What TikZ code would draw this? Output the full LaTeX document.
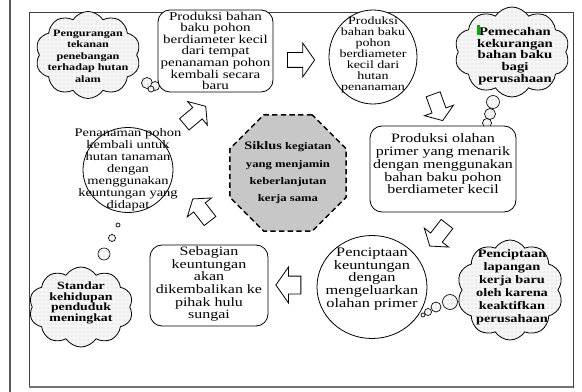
\documentclass[tikz,border=0pt]{standalone}
\usepackage{fontspec}
\setmainfont{Liberation Serif}[FakeStretch=1.25]
\usetikzlibrary{shapes.geometric,shapes.symbols,shapes.arrows,patterns}
\newcommand{\fs}[2]{\fontsize{#1}{#2}\selectfont}
\begin{document}
\begin{tikzpicture}[x=0.75pt,y=-0.75pt,
  txt/.style={align=center, inner sep=0},
  shp/.style={draw, fill=white, line width=0.6pt, inner sep=0},
  rbox/.style={shp, rectangle, rounded corners=9pt},
  ell/.style={shp, ellipse},
  cloudfill/.style={preaction={fill=gray!7}, pattern=dots, pattern color=gray!45},
  cld/.style={cloud, cloud puffs=10, cloud puff arc=115, cloud ignores aspect, draw, line width=0.6pt, cloudfill, inner sep=0},
  bub/.style={circle, draw, line width=0.5pt, cloudfill, inner sep=0, minimum size=#1*1.5pt},
  barrow/.style={single arrow, draw, fill=white, line width=0.6pt, inner xsep=0pt,
    inner ysep=7*0.75pt, minimum height=28*0.75pt,
    single arrow head extend=8*0.75pt, single arrow tip angle=110},
]
\useasboundingbox (0,0) rectangle (582,392);
% frame
\draw[black!65, line width=0.8pt] (10,0) -- (10,392);
\draw[black!75, line width=0.7pt] (29,12) rectangle (573,387);
\draw[black!55, line width=1.6pt] (29,387) -- (573,387);

% octagon
\node[regular polygon, regular polygon sides=8, minimum size=126*0.75pt, fill=black!22, draw,
  dash pattern=on 4pt off 2.5pt, line width=1.1pt, inner sep=0] (oct) at (288,173) {};
\node[txt, font=\bfseries\fs{7.6}{13}] (octt) at (oct) {{\fs{8.6}{13}Siklus} kegiatan\\yang menjamin\\keberlanjutan\\kerja sama};

% top-left cloud
\node[cld, minimum width=105*0.75pt, minimum height=87*0.75pt] (cl1) at (88,55) {};
\node[txt, font=\bfseries\fs{7.3}{8.6}] (cl1t) at (88,56) {Pengurangan\\tekanan\\penebangan\\terhadap hutan\\alam};
\node[bub=5.5] (cl1b1) at (147,83) {};
\node[bub=4.5] (cl1b2) at (155,86) {};
\node[bub=3] (cl1b3) at (151,89) {};

% box top
\node[rbox, minimum width=115*0.75pt, minimum height=82*0.75pt] (b2) at (215.5,51) {};
\node[txt, font=\fs{9}{8}] (b2t) at (b2) {Produksi bahan\\baku pohon\\berdiameter kecil\\dari tempat\\penanaman pohon\\kembali secara\\baru};

% arrow right
\node[barrow, minimum height=27*0.75pt, single arrow head extend=9.5*0.75pt] (a1) at (298.5,60) {};

% circle top
\node[ell, minimum width=88*0.75pt, minimum height=94*0.75pt] (c4) at (373,57) {};
\node[txt, font=\fs{8.4}{8.2}] (c4t) at (373,55) {Produksi\\bahan baku\\pohon\\berdiameter\\kecil dari\\hutan\\penanaman};

% top-right cloud
\node[cld, minimum width=115*0.75pt, minimum height=90*0.75pt] (cl2) at (512,52) {};
\node[txt, font=\bfseries\fs{8.8}{8.75}] (cl2t) at (515,56) {Pemecahan\\kekurangan\\bahan baku\\bagi\\perusahaan};
\fill[green!70!black] (477,25) rectangle (479.5,35);
\node[bub=6.5] (cl2b1) at (493,102) {};
\node[bub=5.5] (cl2b2) at (490,114) {};
\node[bub=4.5] (cl2b3) at (487,123) {};
\node[bub=3] (cl2b4) at (484,130) {};

% arrow down-right
\node[barrow, rotate=-70] (a2) at (437,105) {};

% box right
\node[rbox, minimum width=146*0.75pt, minimum height=86*0.75pt] (b7) at (443,169) {};
\node[txt, font=\fs{9.6}{9.6}] (b7t) at (443,164) {Produksi olahan\\primer yang menarik\\dengan menggunakan\\bahan baku pohon\\berdiameter kecil};

% arrow down-left
\node[barrow, rotate=-128] (a3) at (440,233) {};

% circle bottom
\node[ell, minimum width=110*0.75pt, minimum height=103*0.75pt] (c8) at (372,287) {};
\node[txt, font=\fs{9.8}{9.4}] (c8t) at (372,279) {Penciptaan\\keuntungan\\dengan\\mengeluarkan\\olahan primer};

% bottom-right cloud
\node[cld, minimum width=106*0.75pt, minimum height=100*0.75pt] (cl3) at (510,290) {};
\node[txt, font=\bfseries\fs{8.6}{9.75}] (cl3t) at (512,287) {Penciptaan\\lapangan\\kerja baru\\oleh karena\\keaktifkan\\perusahaan};
\node[bub=7.5] (cl3b1) at (450,302) {};
\node[bub=5] (cl3b2) at (436,307) {};
\node[bub=3.5] (cl3b3) at (428,312) {};
\node[bub=2] (cl3b4) at (423,315) {};

% arrow left
\node[barrow, rotate=180, minimum height=25*0.75pt, inner ysep=8.5*0.75pt, single arrow head extend=9*0.75pt] (a4) at (291.5,285) {};

% box bottom
\node[rbox, minimum width=118*0.75pt, minimum height=81*0.75pt] (b9) at (209,285.5) {};
\node[txt, font=\fs{9.6}{9.5}] (b9t) at (209,284) {Sebagian\\keuntungan\\akan\\dikembalikan ke\\pihak hulu\\sungai};

% bottom-left cloud
\node[cld, minimum width=104*0.75pt, minimum height=80*0.75pt] (cl4) at (81,307) {};
\node[txt, font=\bfseries\fs{8.3}{7.9}] (cl4t) at (81,303) {Standar\\kehidupan\\penduduk\\meningkat};
\node[bub=6] (cl4b1) at (104,254) {};
\node[bub=3.5] (cl4b2) at (112,238) {};
\node[bub=2] (cl4b3) at (118,225) {};

% arrow up-left
\node[barrow, rotate=128] (a5) at (203,212) {};

% circle left
\node[ell, minimum width=90*0.75pt, minimum height=85*0.75pt] (c10) at (128,170) {};
\node[txt, font=\fs{8.7}{9}] (c10t) at (128,170) {Penanaman pohon\\kembali untuk\\hutan tanaman\\dengan\\menggunakan\\keuntungan yang\\didapat};

% arrow up-right
\node[barrow, rotate=40] (a6) at (193,117) {};
\end{tikzpicture}
\end{document}
